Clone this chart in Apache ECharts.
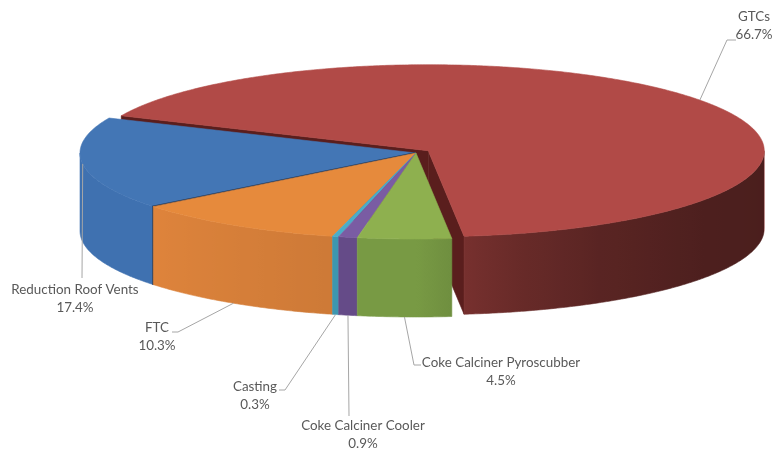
<!DOCTYPE html>
<html>
<head>
<meta charset="utf-8">
<script src="https://cdn.jsdelivr.net/npm/echarts@6/dist/echarts.min.js"></script>
<style>
  html, body { margin: 0; padding: 0; background: #ffffff; }
  #chart { width: 776px; height: 451px; }
</style>
</head>
<body>
<div id="chart"></div>
<script>
// Emission sources and their share of the total (percent)
const categories = [
  'GTCs',
  'Coke Calciner Pyroscubber',
  'Coke Calciner Cooler',
  'Casting',
  'FTC',
  'Reduction Roof Vents'
];
const shares = [66.7, 4.5, 0.9, 0.3, 10.3, 17.4];

// Slice styling
const topColors  = ['#B14A47', '#8EB04F', '#7A5CA3', '#4BADC8', '#E68A3C', '#4376B5'];
const sideColors = ['#803432', '#789A44', '#654B88', '#3E97B0', '#CE7A37', '#3A69A3'];
const cutColors  = ['#5A1E1D', '#5E7A33', '#4E3A6B', '#2F7A8E', '#A8612B', '#1F3A5E'];
const edgeLines  = [null, null, null, null, null, '#1F3A5E'];
const explodeRatio = [0.045, 0, 0, 0, 0, 0];

// Tilted-disc geometry (px)
const PIE = { cx: 416, cy: 153, rx: 336, ry: 86, depth: 78, startAngle: 156 };

// Side-wall lighting by outward normal angle (deg, front half only)
const SHADE = [[180, 1.08], [218, 1.08], [255, 1.0], [270, 1.0], [285, 0.82], [300, 0.7], [325, 0.6], [360, 0.58]];

// Label blocks and leader-line elbows
const LABEL_LAYOUT = [
  { x: 754, y: 26,  anchor: 'top',    path: [[727, 40], [736, 40]] },
  { x: 501, y: 372, anchor: 'bottom', path: [[414, 365], [421, 365]] },
  { x: 363, y: 435, anchor: 'bottom', path: [[349, 416]] },
  { x: 255, y: 396, anchor: 'bottom', path: [[285, 390], [279, 390]] },
  { x: 157, y: 337, anchor: 'bottom', path: [[178, 332], [172, 332]] },
  { x: 75,  y: 299, anchor: 'top',    path: [[82, 278]] }
];
const LABEL_FONT = { family: 'Lato', size: 13.4, color: '#595959', lineHeight: 18 };

const total = shares.reduce((a, b) => a + b, 0);
const cumBefore = shares.map((_, i) => shares.slice(0, i).reduce((a, b) => a + b, 0));

const rad = d => d * Math.PI / 180;
function midAngle(i) {
  const s = PIE.startAngle - cumBefore[i] / total * 360;
  return s - shares[i] / total * 360 / 2;
}
// Painter order: slices further back are drawn first
const order = shares.map((_, i) => i).sort((a, b) => Math.sin(rad(midAngle(b))) - Math.sin(rad(midAngle(a))));
const depthRank = [];
order.forEach((idx, r) => { depthRank[idx] = r; });

function shadeAt(deg) {
  let d = ((deg % 360) + 360) % 360;
  if (d < 180) d = 180;
  for (let k = 1; k < SHADE.length; k++) {
    if (d <= SHADE[k][0]) {
      const [a0, f0] = SHADE[k - 1], [a1, f1] = SHADE[k];
      return f0 + (f1 - f0) * (d - a0) / (a1 - a0);
    }
  }
  return SHADE[SHADE.length - 1][1];
}
function scaleColor(hex, f) {
  const n = parseInt(hex.slice(1), 16);
  const c = [(n >> 16) & 255, (n >> 8) & 255, n & 255].map(v => Math.max(0, Math.min(255, Math.round(v * f))));
  return 'rgb(' + c.join(',') + ')';
}

function renderItem(params, api) {
  const i = params.dataIndex;
  const value = api.value(0);
  const before = api.value(1);
  const sweep = value / total * 360;
  const s = PIE.startAngle - before / total * 360;
  const e = s - sweep;
  const mid = (s + e) / 2;
  const ex = explodeRatio[i];
  const ox = ex * PIE.rx * Math.cos(rad(mid));
  const oy = -ex * PIE.ry * Math.sin(rad(mid));
  const D = PIE.depth;
  const pt = (deg, h) => [
    PIE.cx + ox + PIE.rx * Math.cos(rad(deg)),
    PIE.cy + oy - PIE.ry * Math.sin(rad(deg)) + h
  ];
  const apexT = [PIE.cx + ox, PIE.cy + oy];
  const apexB = [apexT[0], apexT[1] + D];
  const arc = (from, to, h) => {
    const pts = [];
    const n = Math.max(2, Math.ceil(Math.abs(to - from) / 0.5));
    for (let k = 0; k <= n; k++) pts.push(pt(from + (to - from) * k / n, h));
    return pts;
  };
  const base = depthRank[i] * 10;
  const children = [];
  const poly = (points, fill, z2) => ({
    type: 'polygon', z2: z2,
    shape: { points: points },
    style: { fill: fill, stroke: fill, lineWidth: 0.6 }
  });

  // Exposed cut faces of a pulled-out slice
  if (ex > 0) {
    if (Math.cos(rad(s)) < 0) children.push(poly([apexT, pt(s, 0), pt(s, D), apexB], cutColors[i], base + 1));
    if (Math.cos(rad(e)) > 0) children.push(poly([apexT, pt(e, 0), pt(e, D), apexB], cutColors[i], base + 1));
  }

  // Outer wall, only where it faces the viewer
  for (let k = -2; k <= 1; k++) {
    const lo = Math.max(e, 180 + 360 * k);
    const hi = Math.min(s, 360 + 360 * k);
    if (hi - lo <= 0.01) continue;
    const top = arc(lo, hi, 0);
    const bottom = arc(hi, lo, D);
    const x0 = top[0][0], x1 = top[top.length - 1][0];
    const stops = [];
    const n = 24;
    for (let j = 0; j <= n; j++) {
      const a = lo + (hi - lo) * j / n;
      const x = pt(a, 0)[0];
      stops.push({ offset: Math.max(0, Math.min(1, (x - x0) / (x1 - x0 || 1))), color: scaleColor(sideColors[i], shadeAt(a)) });
    }
    const grad = { type: 'linear', x: x0, y: 0, x2: x1, y2: 0, global: true, colorStops: stops };
    children.push({
      type: 'polygon', z2: base + 2,
      shape: { points: top.concat(bottom) },
      style: { fill: grad, stroke: grad, lineWidth: 0.6 }
    });
  }

  // Top face
  children.push(poly([apexT].concat(arc(s, e, 0)), topColors[i], base + 3));

  // Dark seam along the slice's leading edge
  if (edgeLines[i]) {
    children.push({
      type: 'polyline', z2: base + 4,
      shape: { points: [apexT, pt(s, 0), pt(s, D)] },
      style: { stroke: edgeLines[i], lineWidth: 2.2, fill: null }
    });
  }

  // Label with leader line
  const lay = LABEL_LAYOUT[i];
  const anchor = pt(mid, lay.anchor === 'bottom' ? D : 0);
  children.push({
    type: 'polyline', z2: 200,
    shape: { points: [anchor].concat(lay.path) },
    style: { stroke: '#A6A6A6', lineWidth: 1, fill: null }
  });
  children.push({
    type: 'text', z2: 201,
    style: {
      text: categories[i] + '\n' + value.toFixed(1) + '%',
      x: lay.x, y: lay.y,
      align: 'center', verticalAlign: 'middle',
      fill: LABEL_FONT.color,
      font: LABEL_FONT.size + 'px ' + LABEL_FONT.family,
      lineHeight: LABEL_FONT.lineHeight
    }
  });

  return { type: 'group', children: children };
}

const chart = echarts.init(document.getElementById('chart'), null, { renderer: 'canvas' });
chart.setOption({
  backgroundColor: '#ffffff',
  animation: false,
  series: [{
    type: 'custom',
    coordinateSystem: 'none',
    renderItem: renderItem,
    data: shares.map((v, i) => ({ name: categories[i], value: [v, cumBefore[i]] }))
  }]
});
</script>
</body>
</html>
